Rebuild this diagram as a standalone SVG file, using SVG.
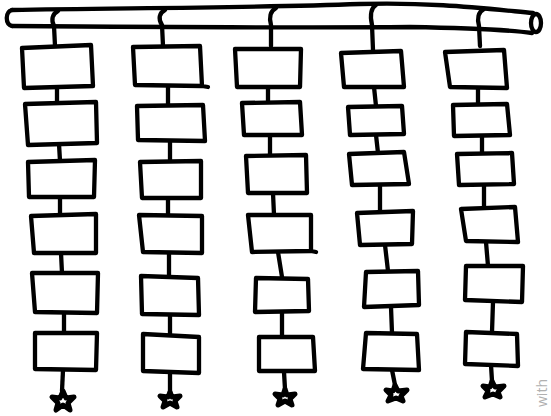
<svg xmlns="http://www.w3.org/2000/svg" width="551" height="416" viewBox="0 0 551 416">
<style>
.s{fill:none;stroke:#000;stroke-width:4.3;stroke-linecap:round;stroke-linejoin:round}
.b{fill:#fff;stroke:#000;stroke-width:4.3;stroke-linecap:round;stroke-linejoin:round}
.st{fill:none;stroke:#000;stroke-width:5;stroke-linecap:round;stroke-linejoin:round}
.w{font-family:"Open Sans","Liberation Sans",sans-serif;font-size:14px;fill:#b0b0b0}
</style>
<rect width="551" height="416" fill="#fff"/>
<g id="pipe">
<path class="s" d="M12,10 C120,8 250,8 360,4 C430,2 480,8 533,13"/>
<path class="s" d="M12,26 C150,27 300,28 410,27 C470,28 510,30 532,33"/>
<path class="s" d="M12,10 C5,12 5,24 12,26"/>
<ellipse class="s" cx="536" cy="23" rx="5" ry="9"/>
</g>
<g id="connectors" class="s">
<path d="M58,11 C52,14 51,20 54,26 L55,46"/>
<path d="M57,88 L57,103"/>
<path d="M59,144 L60,161"/>
<path d="M60,197 L60,215"/>
<path d="M61,253 L62,273"/>
<path d="M64,313 L64,333"/>
<path d="M63,370 L62,391"/>
<path d="M165,10 C159,13 158,19 162,25 L163,46"/>
<path d="M168,87 L168,106"/>
<path d="M170,141 L170,161"/>
<path d="M168,198 L168,215"/>
<path d="M169,254 L169,276"/>
<path d="M170,315 L170,334"/>
<path d="M170,373 L170,392"/>
<path d="M276,8 C270,11 269,18 271,25 L271,46"/>
<path d="M268,87 L268,102"/>
<path d="M270,135 L270,156"/>
<path d="M273,193 L274,215"/>
<path d="M278,252 L282,277"/>
<path d="M282,313 L282,337"/>
<path d="M284,372 L285,389"/>
<path d="M376,5 C371,8 370,16 372,25 L373,50"/>
<path d="M374,87 L376,106"/>
<path d="M376,135 L378,153"/>
<path d="M380,185 L380,212"/>
<path d="M385,245 L388,271"/>
<path d="M391,307 L392,333"/>
<path d="M392,370 L395,385"/>
<path d="M484,9 C478,12 477,19 479,26 L480,46"/>
<path d="M478,87 L478,104"/>
<path d="M482,136 L482,153"/>
<path d="M484,185 L484,208"/>
<path d="M486,242 L488,266"/>
<path d="M493,302 L492,332"/>
<path d="M491,365 L492,381"/>
</g>
<g id="c1b1"><path class="b" d="M22,48 L91,45 L93,86 L24,88 Z"/></g>
<g id="c1b2"><path class="b" d="M25,104 L96,102 L97,143 L28,145 Z"/></g>
<g id="c1b3"><path class="b" d="M28,162 L95,160 L94,197 L29,197 Z"/></g>
<g id="c1b4"><path class="b" d="M31,216 L96,214 L96,253 L34,253 Z"/></g>
<g id="c1b5"><path class="b" d="M32,273 L98,273 L97,313 L35,312 Z"/></g>
<g id="c1b6"><path class="b" d="M35,333 L97,333 L96,370 L35,369 Z"/></g>
<g id="c2b1"><path class="b" d="M133,47 L200,46 L202,86 L135,85 Z M202,86 L208,87"/></g>
<g id="c2b2"><path class="b" d="M137,106 L203,105 L205,141 L138,140 Z"/></g>
<g id="c2b3"><path class="b" d="M140,162 L201,161 L201,198 L142,198 Z"/></g>
<g id="c2b4"><path class="b" d="M139,215 L202,216 L202,253 L143,252 Z"/></g>
<g id="c2b5"><path class="b" d="M141,276 L198,278 L199,315 L142,314 Z"/></g>
<g id="c2b6"><path class="b" d="M143,334 L199,337 L199,373 L143,371 Z"/></g>
<g id="c3b1"><path class="b" d="M235,49 L301,49 L300,87 L237,87 Z"/></g>
<g id="c3b2"><path class="b" d="M242,103 L300,102 L302,135 L244,135 Z"/></g>
<g id="c3b3"><path class="b" d="M246,156 L306,155 L307,193 L248,193 Z"/></g>
<g id="c3b4"><path class="b" d="M248,215 L311,215 L311,251 L252,252 Z M311,251 L316,252"/></g>
<g id="c3b5"><path class="b" d="M256,278 L308,279 L309,311 L255,312 Z"/></g>
<g id="c3b6"><path class="b" d="M259,337 L313,337 L315,371 L259,371 Z"/></g>
<g id="c4b1"><path class="b" d="M341,53 L401,51 L404,87 L344,87 Z"/></g>
<g id="c4b2"><path class="b" d="M348,107 L402,106 L404,134 L350,135 Z"/></g>
<g id="c4b3"><path class="b" d="M349,154 L404,152 L409,184 L352,185 Z"/></g>
<g id="c4b4"><path class="b" d="M357,213 L413,211 L412,244 L360,245 Z"/></g>
<g id="c4b5"><path class="b" d="M366,272 L418,271 L419,305 L364,307 Z"/></g>
<g id="c4b6"><path class="b" d="M366,333 L417,334 L419,370 L363,369 Z"/></g>
<g id="c5b1"><path class="b" d="M445,52 L504,50 L507,88 L450,87 Z"/></g>
<g id="c5b2"><path class="b" d="M453,105 L507,104 L510,135 L454,136 Z"/></g>
<g id="c5b3"><path class="b" d="M457,154 L512,153 L514,184 L459,185 Z"/></g>
<g id="c5b4"><path class="b" d="M461,209 L515,207 L518,242 L466,241 Z"/></g>
<g id="c5b5"><path class="b" d="M466,266 L523,266 L522,302 L465,300 Z"/></g>
<g id="c5b6"><path class="b" d="M466,332 L517,334 L518,366 L465,364 Z"/></g>
<g id="star1"><path class="st" d="M63,391 L66,398 L74,397 L68,403 L70,410 L63,405 L56,410 L58,403 L52,397 L60,398 Z"/></g>
<g id="star2"><path class="st" d="M170,392 L172,397 L180,396 L175,401 L177,407 L170,403 L163,407 L165,401 L160,396 L168,397 Z"/></g>
<g id="star3"><path class="st" d="M285,389 L287,395 L295,394 L290,399 L292,405 L285,401 L278,405 L280,399 L275,394 L283,395 Z"/></g>
<g id="star4"><path class="st" d="M395,385 L398,391 L407,390 L401,396 L403,401 L396,398 L388,401 L391,395 L386,390 L393,391 Z"/></g>
<g id="star5"><path class="st" d="M492,381 L495,387 L504,386 L498,392 L500,397 L493,394 L485,397 L488,391 L483,386 L490,387 Z"/></g>
<text class="w" x="547" y="393" text-anchor="middle" transform="rotate(-90 547 393)">with</text>
</svg>
